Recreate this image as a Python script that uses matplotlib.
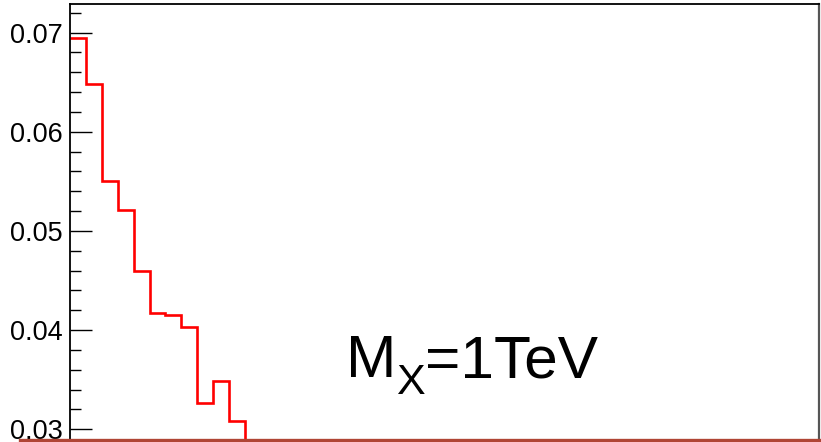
import matplotlib
matplotlib.use("Agg")
import matplotlib.pyplot as plt
from matplotlib.lines import Line2D
from matplotlib.transforms import offset_copy
import numpy as np

plt.rcParams['font.family'] = ['Liberation Sans', 'DejaVu Sans']

# bin contents (fraction per bin), first bins only are above the visible range
bin_values = [0.06944, 0.06483, 0.05504, 0.05209, 0.04597, 0.04170,
              0.04153, 0.04035, 0.03262, 0.03490, 0.03084, 0.0270,
              0.0250, 0.0230]
y_ticks = [0.03, 0.04, 0.05, 0.06, 0.07]
y_tick_labels = ["0.03", "0.04", "0.05", "0.06", "0.07"]
label_main, label_sub, label_rest = "M", "X", "=1TeV"

edges = np.arange(len(bin_values) + 1)

fig = plt.figure(figsize=(8.21, 4.42), dpi=100)
ax = fig.add_axes([70 / 821, 0.0, 749 / 821, 438 / 442])

ax.stairs(bin_values, edges, color="#ff0000", linewidth=1.9, baseline=None)

ax.set_xlim(0, 47.1)
ax.set_ylim(0.02872, 0.07289)

ax.set_yticks(y_ticks)
ax.set_yticklabels(y_tick_labels)
ax.set_yticks(np.arange(0.030, 0.0729, 0.002), minor=True)
ax.tick_params(axis="y", which="major", direction="in", length=16, width=1.0,
               labelsize=19.5, pad=5)
ax.tick_params(axis="y", which="minor", direction="in", length=8, width=1.0)
ax.set_xticks([])

ax.spines["bottom"].set_visible(False)
ax.spines["top"].set_linewidth(1.3)
ax.spines["left"].set_linewidth(1.3)
ax.spines["right"].set_linewidth(1.6)
ax.spines["right"].set_color("#555555")

# M_X=1TeV label, built piece by piece so the subscript is ROOT-like
renderer = fig.canvas.get_renderer()
x0, y0 = (346 - 70) / 749, (442 - 377) / 438
t1 = ax.text(x0, y0, label_main, transform=ax.transAxes, fontsize=43.5,
             va="baseline", ha="left")
w1 = t1.get_window_extent(renderer).width
tr2 = offset_copy(ax.transAxes, fig=fig, x=w1 * 72 / 100, y=-17 * 72 / 100,
                  units="points")
t2 = ax.text(x0, y0, label_sub, transform=tr2, fontsize=31,
             va="baseline", ha="left")
w2 = t2.get_window_extent(renderer).width
tr3 = offset_copy(ax.transAxes, fig=fig, x=(w1 + w2) * 72 / 100, y=0,
                  units="points")
ax.text(x0, y0, label_rest, transform=tr3, fontsize=43.5,
        va="baseline", ha="left")

fig.add_artist(Line2D([20 / 821, 1.0], [2 / 442, 2 / 442], color="#b04535",
                      linewidth=2.4, transform=fig.transFigure))

fig.savefig("out.png", dpi=100)
